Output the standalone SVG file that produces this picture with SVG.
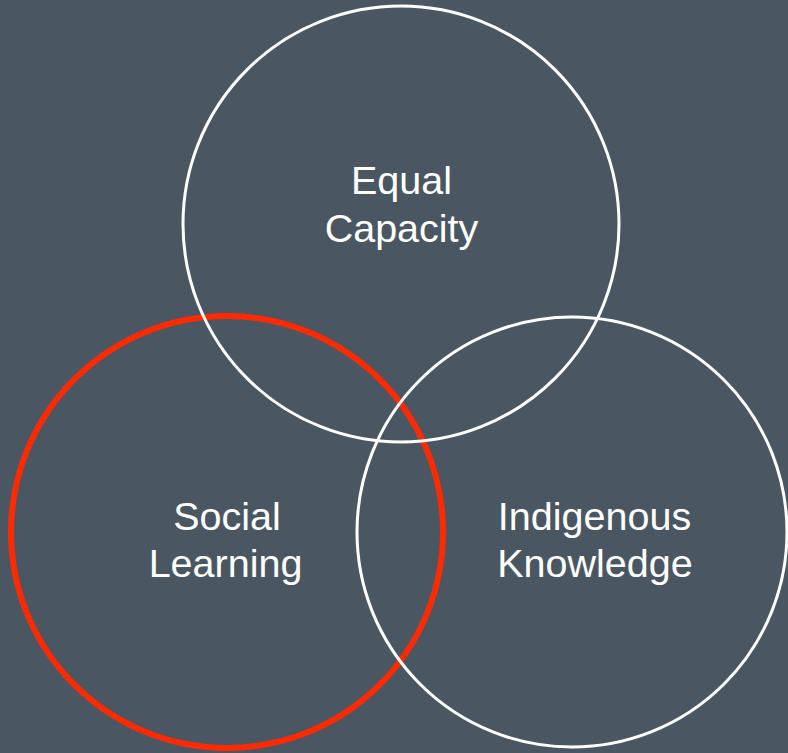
<svg xmlns="http://www.w3.org/2000/svg" width="788" height="753" viewBox="0 0 788 753">
  <style>
    .ring { fill: none; }
    .white { stroke: #ffffff; stroke-width: 3; }
    .red { stroke: #ff2a00; stroke-width: 6; }
    .label { font-family: "Liberation Sans", Arial, sans-serif; font-size: 39.5px; fill: #ffffff; text-anchor: middle; }
  </style>
  <rect width="788" height="753" fill="#4a5762"/>

  <g id="social-learning">
    <circle class="ring red" cx="227" cy="532" r="216"/>
    <text class="label" x="227" y="529.5">Social</text>
    <text class="label" x="225.5" y="577">Learning</text>
  </g>

  <g id="equal-capacity">
    <circle class="ring white" cx="401" cy="224" r="218"/>
    <text class="label" x="401.5" y="193.5">Equal</text>
    <text class="label" x="401.5" y="241.5">Capacity</text>
  </g>

  <g id="indigenous-knowledge">
    <circle class="ring white" cx="572" cy="532" r="215"/>
    <text class="label" x="594.5" y="529.5">Indigenous</text>
    <text class="label" x="595" y="577">Knowledge</text>
  </g>
</svg>
